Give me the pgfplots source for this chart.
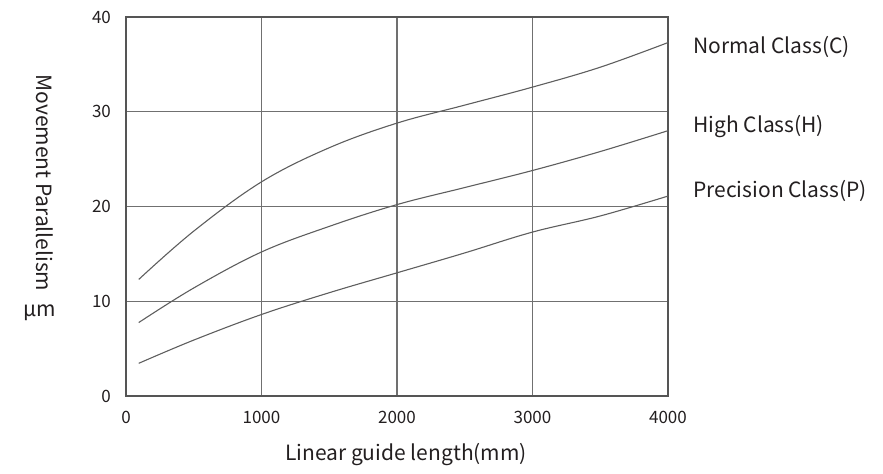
\documentclass[border=0pt]{standalone}
\usepackage{fontspec}
\setmainfont{Noto Sans CJK SC}
\usepackage{pgfplots}
\pgfplotsset{compat=1.18}

\definecolor{curve}{HTML}{5E5E5E}
\definecolor{gridc}{HTML}{707070}
\definecolor{frame}{HTML}{555555}
\definecolor{txt}{HTML}{231F20}

\begin{document}
\begin{tikzpicture}
\begin{axis}[
    scale only axis,
    width=271pt, height=189.5pt,
    xmin=0, xmax=4000, ymin=0, ymax=40,
    xtick={0,1000,2000,3000,4000},
    ytick={0,10,20,30,40},
    grid=major,
    major grid style={gridc, line width=0.65pt},
    major tick length=0pt,
    axis line style={frame, line width=1.2pt},
    tick label style={font=\fontsize{8.5}{10}\selectfont, text=txt},
    /pgf/number format/assume math mode=true,
    /pgf/number format/1000 sep={},
    xticklabel style={yshift=-4pt},
    yticklabel style={xshift=-4pt},
    clip=false,
]
% Normal Class (C)
\addplot[curve, line width=0.55pt, smooth, tension=0.6] coordinates {
    (94,12.3) (500,17.4) (1000,22.6) (1500,26.2) (2000,28.8)
    (2500,30.7) (3000,32.6) (3500,34.7) (4000,37.3)
};
% High Class (H)
\addplot[curve, line width=0.55pt, smooth, tension=0.6] coordinates {
    (94,7.75) (500,11.4) (1000,15.2) (1500,17.9) (2000,20.2)
    (2500,22.0) (3000,23.8) (3500,25.8) (4000,28.0)
};
% Precision Class (P)
\addplot[curve, line width=0.55pt, smooth, tension=0.6] coordinates {
    (94,3.45) (500,5.9) (1000,8.6) (1500,10.9) (2000,13.0)
    (2500,15.1) (3000,17.3) (3500,19.0) (4000,21.1)
};

\node[font=\fontsize{10.5}{12}\selectfont, text=txt, rotate=-90]
    at (axis description cs:-0.1494,0.562) {Movement Parallelism};
\node[font=\fontsize{10.5}{12}\selectfont, text=txt]
    at (axis description cs:-0.1587,0.219) {μm};
\node[font=\fontsize{10.5}{12}\selectfont, text=txt]
    at (axis description cs:0.5166,-0.1557) {Linear guide length(mm)};
\node[font=\fontsize{10.5}{12}\selectfont, text=txt, anchor=west, inner sep=0pt]
    at (axis description cs:1.046,0.921) {Normal Class(C)};
\node[font=\fontsize{10.5}{12}\selectfont, text=txt, anchor=west, inner sep=0pt]
    at (axis description cs:1.046,0.710) {High Class(H)};
\node[font=\fontsize{10.5}{12}\selectfont, text=txt, anchor=west, inner sep=0pt]
    at (axis description cs:1.046,0.541) {Precision Class(P)};

\coordinate (sw) at (rel axis cs:0,0);
\coordinate (ne) at (rel axis cs:1,1);
\end{axis}
\pgfresetboundingbox
\path[use as bounding box] ([shift={(-63pt,-39pt)}]sw) rectangle ([shift={(107.5pt,8.5pt)}]ne);
\end{tikzpicture}
\end{document}
